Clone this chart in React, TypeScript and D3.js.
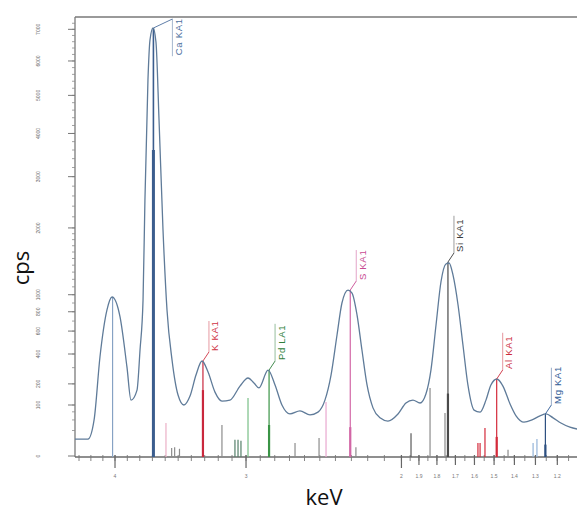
import React from 'react';
import * as d3 from 'd3';

const W = 577, H = 513;
const M = { left: 75, top: 17, right: 577, bottom: 456 };

// ── Spectrum trace: energy (keV) and counts (cps) ───────────────────────────
const SPEC_KEV = [
  4.334, 4.224, 4.173, 4.124, 4.066, 4.024, 3.959, 3.903, 3.870, 3.822, 3.798,
  3.774, 3.759, 3.735, 3.719, 3.695, 3.672, 3.648, 3.617, 3.586, 3.547, 3.501,
  3.456, 3.410, 3.365, 3.320, 3.275, 3.224, 3.173, 3.115, 3.043, 2.986, 2.944,
  2.909, 2.846, 2.798, 2.751, 2.697, 2.630, 2.564, 2.512, 2.467, 2.428, 2.390,
  2.359, 2.321, 2.296, 2.265, 2.235, 2.204, 2.168, 2.126, 2.079, 2.020, 1.974,
  1.934, 1.894, 1.861, 1.833, 1.805, 1.778, 1.751, 1.734, 1.713, 1.686, 1.660,
  1.634, 1.602, 1.571, 1.541, 1.516, 1.486, 1.456, 1.421, 1.392, 1.354, 1.316,
  1.279, 1.251, 1.219, 1.184, 1.144, 1.113,
];
const SPEC_CPS = [
  11, 11, 50, 377, 820, 972, 743, 305, 120, 167, 432,
  936, 2520, 5435, 6653, 7043, 6590, 4341, 1964, 820, 354, 143,
  100, 138, 252, 347, 271, 157, 116, 120, 188, 234, 205,
  178, 284, 194, 100, 68, 78, 65, 74, 120, 252, 563,
  900, 1059, 1021, 764, 432, 194, 89, 56, 47, 68, 108,
  120, 108, 148, 284, 660, 1164, 1417, 1432, 1260, 877, 474,
  194, 81, 74, 120, 194, 228, 188, 104, 62, 44, 50,
  62, 68, 56, 42, 32, 28,
];

// ── Element marker lines ─────────────────────────────────────────────────────
const LINE_KEV = [
  4.020, 3.692, 3.594, 3.550, 3.527, 3.490, 3.313, 3.173, 3.079, 3.057, 3.036,
  2.986, 2.839, 2.663, 2.505, 2.460, 2.307, 2.272, 1.945, 1.838, 1.756, 1.740,
  1.582, 1.571, 1.546, 1.487, 1.431, 1.311, 1.293, 1.254,
];
const LINE_CPS = [
  972, 7043, 42, 2.5, 3, 2, 347, 37, 10, 10, 9,
  129, 284, 6.5, 12.5, 112, 1059, 3, 20, 178, 71, 1447,
  6.5, 6.5, 30, 228, 1.5, 6.5, 11, 68,
];
const LINE_GROUP = [
  'caB', 'ca', 'pink', 'grey', 'grey', 'grey', 'k', 'grey', 'dkgreen', 'dkgreen', 'dkgreen',
  'pdB', 'pd', 'grey', 'grey', 'sB', 's', 'grey', 'dark', 'grey', 'grey', 'si',
  'al', 'al', 'al', 'al', 'grey', 'mgB', 'mgB', 'mg',
];

// ── Labelled peaks ───────────────────────────────────────────────────────────
const PEAK_NAMES = ['Ca KA1', 'K KA1', 'Pd LA1', 'S KA1', 'Si KA1', 'Al KA1', 'Mg KA1'];
const PEAK_GROUP = ['ca', 'k', 'pd', 's', 'si', 'al', 'mg'];
const PEAK_KEV = [3.692, 3.313, 2.839, 2.307, 1.740, 1.487, 1.254];
const PEAK_CPS = [7043, 347, 284, 1059, 1447, 228, 68];
const PEAK_BAR_CPS = [3600, 167, 37, 32, 150, 14, 5];

// ── Axis ticks ───────────────────────────────────────────────────────────────
const X_MAJOR = [4, 3, 2];
const X_LABELS = [4, 3, 2, 1.9, 1.8, 1.7, 1.6, 1.5, 1.4, 1.3, 1.2];
const Y_LABELS = [0, 100, 200, 400, 600, 800, 1000, 2000, 3000, 4000, 5000, 6000, 7000];

const COLORS: Record<string, string> = {
  ca: '#3b5d8e', caB: '#86a2c4', pink: '#ebb0c6', grey: '#8c8c8c', dark: '#5a5a5a',
  k: '#c9283d', dkgreen: '#55806a', pd: '#3a9446', pdB: '#78bf86',
  s: '#d266a6', sB: '#e9a8cf', si: '#4a4a4a', al: '#d42a3a', mg: '#2c4f80', mgB: '#93b3d9',
};
const LABEL_COLORS: Record<string, string> = {
  ca: '#4d6f9e', k: '#cf3344', pd: '#2f7f3c', s: '#c84b93', si: '#3a3a3a', al: '#cc2b3c', mg: '#2f5a96',
};

export default function App() {
  const x = d3.scaleSqrt().domain([4.334, 1.1134]).range([M.left, M.right]);
  const y = d3.scaleSqrt().domain([0, 7410]).range([M.bottom, M.top]);

  const pts: [number, number][] = SPEC_KEV.map((e, i) => [x(e), y(SPEC_CPS[i])]);
  const path = d3.line().curve(d3.curveMonotoneX)(pts) || '';

  const minorX = [
    ...d3.range(43, 19, -1).map(v => v / 10),
    ...d3.range(39, 22, -1).map(v => v / 20),
  ];
  const minorY = [
    ...d3.range(25, 100, 25),
    ...d3.range(100, 2000, 100),
    ...d3.range(2000, 7400, 200),
  ];
  const axisY = M.bottom + 1;

  return (
    <svg width={W} height={H} style={{ position: 'absolute', left: 0, top: 0, background: '#fff' }}>
      {/* frame */}
      <line x1={M.left} x2={W} y1={M.top} y2={M.top} stroke="#9a9a9a" strokeWidth={2} />
      <line x1={M.left} x2={M.left} y1={M.top} y2={axisY} stroke="#7a7a7a" strokeWidth={1.3} />
      <line x1={M.left} x2={W} y1={axisY} y2={axisY} stroke="#6a6a6a" strokeWidth={1.3} />

      {/* y ticks */}
      {minorY.map(v => (
        <line key={'ym' + v} x1={M.left - 3} x2={M.left} y1={y(v)} y2={y(v)} stroke="#8a8a8a" strokeWidth={0.8} />
      ))}
      {Y_LABELS.map(v => (
        <g key={'yl' + v}>
          <line x1={M.left - 7} x2={M.left} y1={y(v)} y2={y(v)} stroke="#777" strokeWidth={1} />
          <text transform={`translate(40,${y(v)}) rotate(-90)`} textAnchor="middle"
            fontSize={5} fontFamily="Liberation Sans, sans-serif" fill="#666">{v}</text>
        </g>
      ))}

      {/* x ticks */}
      {minorX.map(v => (
        <line key={'xm' + v} x1={x(v)} x2={x(v)} y1={axisY - 2} y2={axisY + 4} stroke="#777" strokeWidth={0.9} />
      ))}
      {X_LABELS.map(v => (
        <g key={'xl' + v}>
          <line x1={x(v)} x2={x(v)} y1={axisY - 2} y2={axisY + (X_MAJOR.includes(v) ? 11 : 8)}
            stroke="#666" strokeWidth={1.2} />
          <text x={x(v)} y={axisY + 21} textAnchor="middle" fontSize={5}
            fontFamily="Liberation Sans, sans-serif" fill="#777">{v}</text>
        </g>
      ))}

      {/* element lines */}
      {LINE_KEV.map((e, i) => (
        <line key={'ln' + i} x1={x(e)} x2={x(e)} y1={axisY} y2={y(LINE_CPS[i])}
          stroke={COLORS[LINE_GROUP[i]]} strokeWidth={LINE_GROUP[i] === 'ca' ? 1.6 : 1.2} />
      ))}
      {PEAK_KEV.map((e, i) => (
        <line key={'bar' + i} x1={x(e)} x2={x(e)} y1={axisY} y2={y(PEAK_BAR_CPS[i])}
          stroke={COLORS[PEAK_GROUP[i]]} strokeWidth={PEAK_GROUP[i] === 'ca' ? 3 : 2.2} />
      ))}

      {/* spectrum */}
      <path d={path} fill="none" stroke="#5f7b99" strokeWidth={1.3} />

      {/* peak labels */}
      {PEAK_KEV.map((e, i) => {
        const px = x(e), py = y(PEAK_CPS[i]);
        const len = PEAK_NAMES[i].length * 6.2;
        let bottom = py - 9, top = bottom - len, bx = px + 6;
        let ly = bottom;
        if (top < 19) { top = 19; bottom = top + len; bx = px + 19; ly = top; }
        const col = LABEL_COLORS[PEAK_GROUP[i]];
        return (
          <g key={'lab' + i}>
            <line x1={px} y1={py} x2={bx} y2={ly} stroke={col} strokeWidth={0.9} />
            <line x1={bx} y1={top} x2={bx} y2={bottom} stroke={col} strokeWidth={0.9} opacity={0.55} />
            <text transform={`translate(${bx + 9.5},${bottom - 1}) rotate(-90)`} fontSize={9.5}
              letterSpacing={0.7} fontFamily="Liberation Sans, sans-serif" fill={col}>{PEAK_NAMES[i]}</text>
          </g>
        );
      })}

      {/* axis titles */}
      <text transform="translate(29,268) rotate(-90)" textAnchor="middle" fontSize={22}
        fontFamily="Open Sans, sans-serif" fill="#111">cps</text>
      <text x={324} y={505} textAnchor="middle" fontSize={22}
        fontFamily="Open Sans, sans-serif" fill="#111">keV</text>
    </svg>
  );
}
